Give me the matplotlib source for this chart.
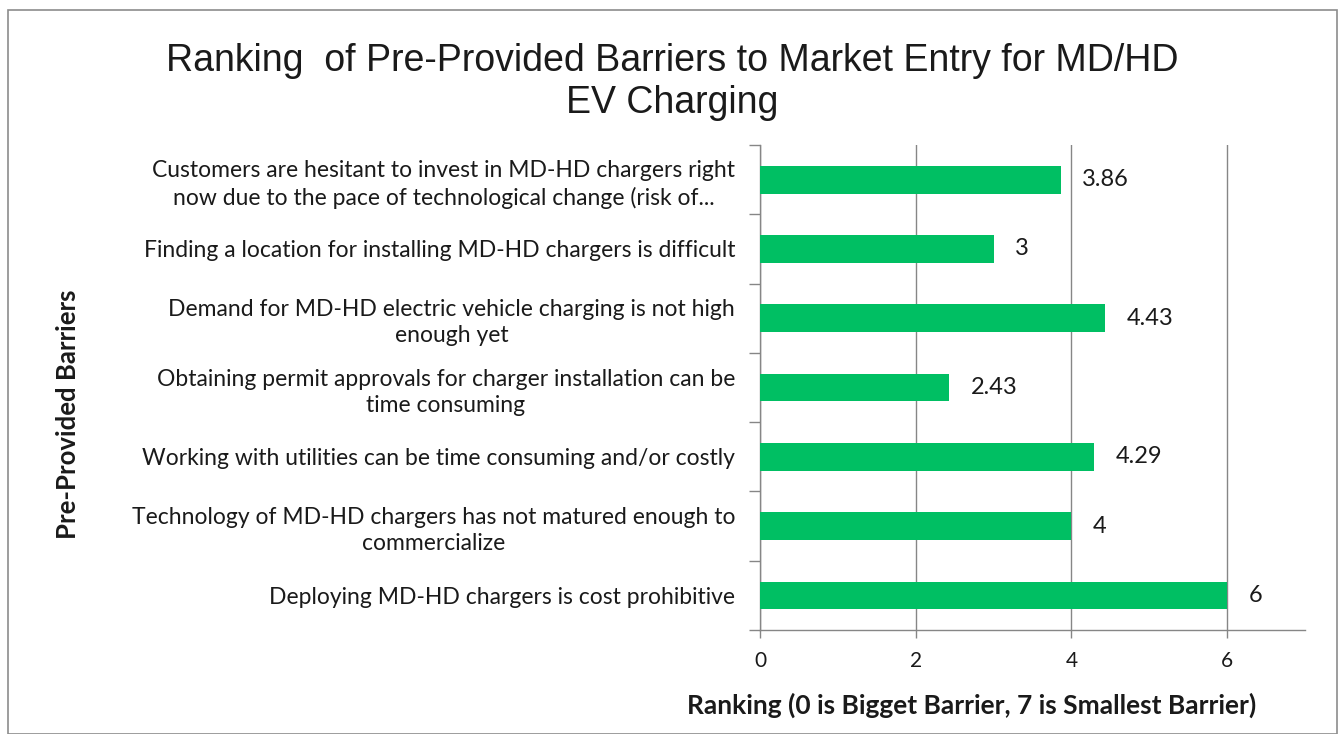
import matplotlib.pyplot as plt
from matplotlib.patches import Rectangle

# barriers listed top to bottom as in the chart
barriers = [
    "Customers are hesitant to invest in MD-HD chargers right\nnow due to the pace of technological change (risk of...",
    "Finding a location for installing MD-HD chargers is difficult",
    "Demand for MD-HD electric vehicle charging is not high\nenough yet",
    "Obtaining permit approvals for charger installation can be\ntime consuming",
    "Working with utilities can be time consuming and/or costly",
    "Technology of MD-HD chargers has not matured enough to\ncommercialize",
    "Deploying MD-HD chargers is cost prohibitive",
]
rankings = [3.86, 3, 4.43, 2.43, 4.29, 4, 6]
value_labels = ["3.86", "3", "4.43", "2.43", "4.29", "4", "6"]
x_ticks = [0, 2, 4, 6]

W, H = 1341, 734
fig = plt.figure(figsize=(W / 100, H / 100), dpi=100)
fig.patches.append(Rectangle((8 / W, 0), (W - 12) / W, 1 - 10 / H, transform=fig.transFigure,
                             fill=False, edgecolor='#8c8c8c', linewidth=1.2))

ax = fig.add_axes([760 / W, 1 - 630 / H, 545 / W, 485 / H])
grey = '#868686'
txt = '#1a1a1a'
lab_font = 'Lato'

n = len(barriers)
ypos = list(range(n))
ax.barh(ypos, rankings, height=0.4, color='#00BF63', zorder=3)
ax.set_ylim(n - 0.5, -0.5)
ax.set_xlim(0, 7)

for y, v, s in zip(ypos, rankings, value_labels):
    ax.text(v + 0.28, y, s, va='center', ha='left', fontsize=17, color=txt, family=lab_font)

ax.set_xticks(x_ticks)
ax.set_xticklabels([str(t) for t in x_ticks], fontsize=15, color=txt, family=lab_font)
ax.tick_params(axis='x', length=6, width=1, color=grey, pad=9)
ax.xaxis.grid(True, color=grey, linewidth=1, zorder=0)

ax.set_yticks(ypos)
ax.set_yticklabels(barriers, fontsize=16.5, color=txt, family=lab_font,
                   multialignment='center', linespacing=1.3)
ax.tick_params(axis='y', which='major', length=0, pad=18)
ax.set_yticks([i - 0.5 for i in range(n + 1)], minor=True)
ax.tick_params(axis='y', which='minor', length=8, width=1, color=grey)

for side in ['top', 'right']:
    ax.spines[side].set_visible(False)
for side in ['left', 'bottom']:
    ax.spines[side].set_color(grey)
    ax.spines[side].set_linewidth(1)

fig.text(672 / W, 1 - 82 / H, "Ranking  of Pre-Provided Barriers to Market Entry for MD/HD\nEV Charging",
         ha='center', va='center', fontsize=27, color=txt, family='Liberation Sans', linespacing=1.2)
fig.text(972 / W, 1 - 705 / H, "Ranking (0 is Bigget Barrier, 7 is Smallest Barrier)",
         ha='center', va='center', fontsize=19, fontweight='bold', color=txt, family=lab_font)
fig.text(68 / W, 1 - 414 / H, "Pre-Provided Barriers", rotation=90,
         ha='center', va='center', fontsize=18.5, fontweight='bold', color=txt, family=lab_font)

fig.savefig('out.png', dpi=100)
